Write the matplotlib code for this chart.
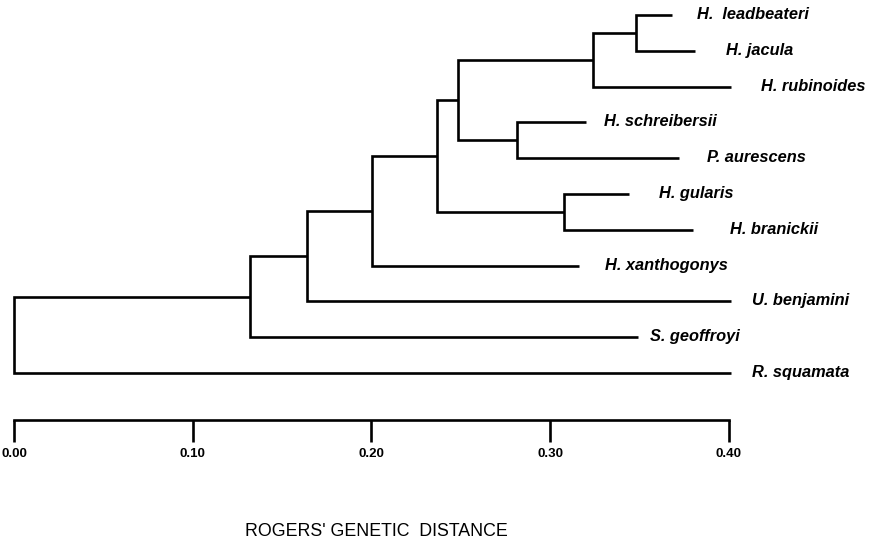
"""Rogers' genetic distance dendrogram (hummingbirds)."""
import matplotlib
matplotlib.use("Agg")
import matplotlib.pyplot as plt
from matplotlib.transforms import blended_transform_factory

plt.rcParams["font.family"] = ["Liberation Sans", "DejaVu Sans"]

# leaves, top to bottom
species = ["H.  leadbeateri", "H. jacula", "H. rubinoides", "H. schreibersii",
           "P. aurescens", "H. gularis", "H. branickii", "H. xanthogonys",
           "U. benjamini", "S. geoffroyi", "R. squamata"]
# distance at the end of each terminal branch
tip_dist = [0.368, 0.381, 0.401, 0.320, 0.372, 0.344, 0.380, 0.316, 0.401, 0.349, 0.401]

# joins: (child a, child b, distance); leaves are 0..10, new nodes numbered from 11
join_a = [0, 11, 3, 12, 5, 14, 16, 17, 18, 19]
join_b = [1, 2, 4, 13, 6, 15, 7, 8, 9, 10]
join_dist = [0.348, 0.324, 0.2815, 0.2485, 0.308, 0.2367, 0.2003, 0.164, 0.132, 0.0]

tick_vals = [0.0, 0.1, 0.2, 0.3, 0.4]
tick_text = ["0.00", "0.10", "0.20", "0.30", "0.40"]

# label gap after each branch tip, in pixels (layout only)
label_gap_px = [25, 31, 30, 18, 28, 30, 37, 26, 21, 12, 21]

PX_PER_UNIT = 1787.0
ROW_PX = 35.8
TOP_PX = 15.0
W, H = 871, 542

fig = plt.figure(figsize=(W / 100, H / 100), dpi=100)
ax = fig.add_axes([0, 0, 1, 1])
ax.set_xlim(-14 / PX_PER_UNIT, (W - 14) / PX_PER_UNIT)
ax.set_ylim((H - TOP_PX) / ROW_PX, -TOP_PX / ROW_PX)

lw = 1.9
node_x = list(tip_dist)
node_y = list(range(len(species)))
for a, b, d in zip(join_a, join_b, join_dist):
    ya, yb = node_y[a], node_y[b]
    ax.plot([node_x[a], d, d, node_x[b]], [ya, ya, yb, yb], color="black",
            lw=lw, solid_joinstyle="miter", solid_capstyle="butt")
    node_x.append(d)
    node_y.append((ya + yb) / 2)

for i, name in enumerate(species):
    ax.annotate(name, xy=(tip_dist[i], i), xytext=(label_gap_px[i] * 0.72, -4 * 0.72),
                textcoords="offset points", ha="left", va="baseline",
                fontsize=11.8, fontstyle="italic", fontweight="bold")

# distance scale
for s in ["top", "left", "right"]:
    ax.spines[s].set_visible(False)
ax.spines["bottom"].set_position(("data", (420 - TOP_PX) / ROW_PX))
ax.spines["bottom"].set_bounds(0, 0.4)
ax.spines["bottom"].set_linewidth(lw)
ax.set_xticks(tick_vals)
ax.set_xticklabels(tick_text, fontsize=9.5, fontweight="bold")
ax.tick_params(axis="x", direction="out", length=16, width=lw, pad=4)
ax.set_yticks([])
ax.patch.set_visible(False)

trans = blended_transform_factory(ax.transData, ax.transAxes)
ax.text(0.203, 1 - 536 / H, "ROGERS' GENETIC  DISTANCE", transform=trans,
        ha="center", va="baseline", fontsize=12.8)

fig.savefig("out.png", dpi=100)
